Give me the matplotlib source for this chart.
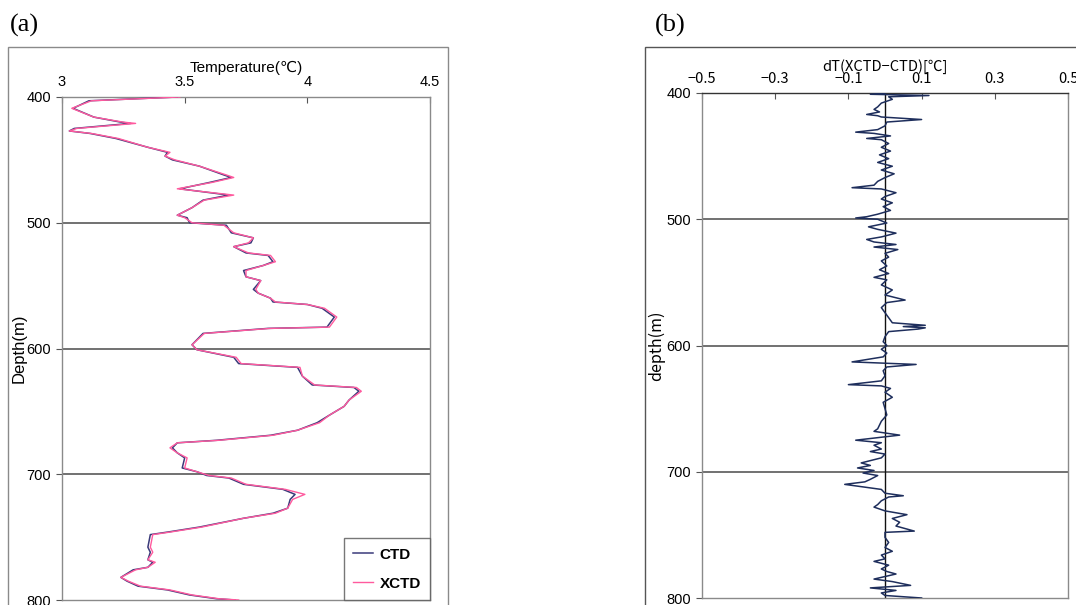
"""
CTD / XCTD temperature profile comparison, two panels.
Writes out.png.
"""
import matplotlib
matplotlib.use("Agg")
import matplotlib.pyplot as plt
from matplotlib.patches import Rectangle

# (a) temperature profiles
ctd_depth = [400, 403, 409, 416, 420, 421, 425, 427, 429, 433, 440, 444, 447, 450, 455,
             462, 464, 468, 473, 478, 482, 488, 494, 496, 500, 502, 508, 512, 516, 519,
             524, 526, 531, 534, 538, 543, 546, 553, 556, 560, 563, 565, 568, 575, 583,
             584, 588, 597, 601, 607, 612, 615, 622, 629, 631, 634, 641, 646, 653, 659,
             665, 669, 673, 675, 679, 683, 687, 695, 698, 701, 703, 708, 712, 716, 720,
             727, 731, 735, 742, 746, 748, 758, 762, 768, 770, 774, 776, 782, 785, 789,
             792, 796, 799, 800]
ctd_temp = [3.47, 3.11, 3.045, 3.13, 3.24, 3.28, 3.05, 3.03, 3.115, 3.22, 3.35, 3.43, 3.42, 3.45, 3.56,
            3.66, 3.69, 3.60, 3.48, 3.68, 3.575, 3.53, 3.47, 3.51, 3.52, 3.67, 3.69, 3.78, 3.77, 3.70,
            3.75, 3.84, 3.86, 3.82, 3.74, 3.75, 3.81, 3.78, 3.80, 3.85, 3.86, 4.00, 4.06, 4.11, 4.08,
            3.84, 3.575, 3.53, 3.55, 3.70, 3.72, 3.96, 3.98, 4.02, 4.19, 4.21, 4.17, 4.15, 4.09, 4.04,
            3.96, 3.85, 3.63, 3.47, 3.45, 3.47, 3.50, 3.49, 3.55, 3.59, 3.68, 3.74, 3.90, 3.95, 3.93,
            3.92, 3.86, 3.74, 3.56, 3.43, 3.36, 3.35, 3.36, 3.35, 3.37, 3.35, 3.29, 3.24, 3.265, 3.31,
            3.43, 3.52, 3.63, 3.705]
xctd_temp = [3.48, 3.12, 3.04, 3.13, 3.25, 3.30, 3.06, 3.03, 3.12, 3.23, 3.35, 3.44, 3.42, 3.46, 3.56,
             3.67, 3.70, 3.61, 3.47, 3.70, 3.58, 3.53, 3.47, 3.50, 3.53, 3.66, 3.70, 3.78, 3.76, 3.70,
             3.76, 3.85, 3.87, 3.82, 3.75, 3.75, 3.81, 3.79, 3.80, 3.85, 3.87, 4.00, 4.07, 4.12, 4.09,
             3.85, 3.58, 3.53, 3.55, 3.71, 3.73, 3.97, 3.98, 4.03, 4.20, 4.22, 4.17, 4.15, 4.09, 4.05,
             3.96, 3.86, 3.64, 3.47, 3.44, 3.47, 3.51, 3.50, 3.55, 3.60, 3.69, 3.75, 3.91, 3.99, 3.94,
             3.92, 3.87, 3.74, 3.57, 3.44, 3.37, 3.36, 3.37, 3.35, 3.38, 3.35, 3.30, 3.24, 3.27, 3.32,
             3.44, 3.53, 3.64, 3.72]

# (b) difference XCTD - CTD
dt_depth = [400, 401, 402, 403, 405, 408, 411, 413, 415, 417, 418, 419, 421, 423, 426, 429, 431, 432,
            434, 436, 437, 440, 443, 446, 449, 452, 455, 458, 461, 464, 467, 470, 473, 475, 476, 479,
            482, 484, 487, 490, 493, 496, 498, 499, 500, 503, 506, 508, 511, 514, 516, 518, 520, 522,
            524, 527, 530, 533, 537, 540, 543, 546, 548, 552, 556, 560, 564, 566, 570, 574, 578, 582,
            584, 585, 586, 587, 589, 593, 597, 600, 603, 606, 609, 613, 614, 615, 617, 620, 624, 628,
            631, 632, 634, 637, 641, 645, 650, 655, 660, 666, 668, 671, 673, 675, 677, 679, 682, 684,
            686, 689, 693, 695, 697, 699, 701, 703, 706, 708, 710, 712, 714, 717, 719, 720, 723, 726,
            728, 731, 734, 737, 740, 743, 747, 748, 752, 756, 760, 763, 766, 769, 771, 774, 777, 779,
            781, 783, 785, 787, 790, 792, 794, 796, 798, 800]
dt_val = [0.0, -0.04, 0.12, 0.01, 0.02, -0.01, -0.02, -0.03, -0.015, -0.05, -0.02, -0.01, 0.10, 0.005,
          0.0, -0.02, -0.08, -0.03, 0.015, -0.05, -0.01, 0.01, -0.01, 0.015, -0.015, 0.01, -0.02, 0.02,
          -0.01, 0.025, 0.0, -0.02, -0.03, -0.09, -0.01, 0.03, 0.0, -0.01, 0.02, -0.005, 0.015, -0.02,
          -0.05, -0.08, -0.02, 0.005, -0.045, -0.02, 0.03, -0.01, -0.05, -0.03, 0.03, -0.03, 0.035, 0.0,
          0.01, -0.01, 0.005, -0.015, 0.01, -0.03, 0.005, -0.01, 0.02, 0.0, 0.055, 0.005, -0.01, 0.0,
          0.01, 0.02, 0.11, 0.05, 0.11, 0.09, 0.01, 0.0, -0.005, 0.005, -0.01, 0.005, -0.005, -0.09,
          0.0, 0.085, 0.005, -0.005, 0.0, -0.01, -0.10, -0.01, 0.015, 0.0, 0.02, -0.005, 0.0, 0.005,
          -0.01, -0.02, -0.03, 0.04, -0.02, -0.08, -0.01, -0.03, -0.01, -0.04, 0.0, -0.01, -0.065,
          -0.04, -0.075, -0.03, -0.06, -0.02, -0.04, -0.055, -0.11, -0.06, -0.01, 0.0, 0.05, 0.01,
          -0.01, -0.02, -0.03, 0.0, 0.06, 0.02, 0.04, 0.03, 0.08, 0.0, 0.0, 0.01, 0.0, 0.02, -0.01,
          0.0, -0.03, 0.01, -0.01, 0.005, 0.03, 0.0, -0.03, 0.02, 0.07, -0.04, 0.03, -0.01, 0.0, 0.10]

temp_ticks = [3, 3.5, 4, 4.5]
temp_tick_labels = ["3", "3.5", "4", "4.5"]
dt_ticks = [-0.5, -0.3, -0.1, 0.1, 0.3, 0.5]
dt_tick_labels = ["\u22120.5", "\u22120.3", "\u22120.1", "0.1", "0.3", "0.5"]
depth_ticks = [400, 500, 600, 700, 800]

SANS = ["Liberation Sans", "DejaVu Sans"]
GOTHIC = ["Noto Sans CJK JP", "DejaVu Sans"]
TICK_FS = 10.5


def style_axis(ax, xlim, xticks, xlabels, label_family, xpad=6):
    ax.set_xlim(*xlim)
    ax.set_ylim(800, 400)
    ax.xaxis.tick_top()
    ax.set_xticks(xticks)
    ax.set_xticklabels(xlabels, family=label_family, fontsize=TICK_FS)
    ax.set_yticks(depth_ticks)
    ax.set_yticklabels([str(d) for d in depth_ticks], family=SANS, fontsize=TICK_FS)
    ax.tick_params(axis="x", direction="in", length=4, pad=xpad, color="#555555")
    ax.tick_params(axis="y", direction="out", length=4, pad=4, color="#555555")
    for d in [500, 600, 700]:
        ax.axhline(d, color="#4a4a4a", lw=1.1, zorder=1)
    for s in ax.spines.values():
        s.set_color("#8a8a8a")
        s.set_linewidth(1.0)


def main():
    fig = plt.figure(figsize=(10.76, 6.05), dpi=100)
    W, H = 1076, 605

    # outer chart frames (bottom runs off the image)
    fig.patches.append(Rectangle((8 / W, -0.05), 440 / W, 1.05 - 47 / H,
                                 transform=fig.transFigure, fill=False,
                                 edgecolor="#8a8a8a", lw=1.0))
    fig.patches.append(Rectangle((645 / W, -0.05), 440 / W, 1.05 - 47 / H,
                                 transform=fig.transFigure, fill=False,
                                 edgecolor="#555555", lw=1.0))

    # (a)
    ax1 = fig.add_axes([62 / W, 1 - 600 / H, 368 / W, 503 / H])
    style_axis(ax1, (3, 4.5), temp_ticks, temp_tick_labels, SANS)
    ax1.plot(ctd_temp, ctd_depth, color="#3a3a7a", lw=1.1, label="CTD", zorder=3)
    ax1.plot(xctd_temp, ctd_depth, color="#ff5a9e", lw=1.0, label="XCTD", zorder=4)
    ax1.set_xlabel("Temperature(\u2103)", family=SANS, fontsize=11, labelpad=2)
    ax1.xaxis.set_label_position("top")
    ax1.set_ylabel("Depth(m)", family=SANS, fontsize=12, labelpad=0)
    leg = ax1.legend(loc="lower right", frameon=True, fancybox=False,
                     edgecolor="#555555", prop={"family": SANS, "weight": "bold", "size": 11},
                     handlelength=1.3, borderpad=0.6, labelspacing=1.0,
                     borderaxespad=0.0, handletextpad=0.4)
    leg.get_frame().set_linewidth(1.0)

    # (b)
    ax2 = fig.add_axes([702 / W, 1 - 598 / H, 366 / W, 505 / H])
    style_axis(ax2, (-0.5, 0.5), dt_ticks, dt_tick_labels, GOTHIC, xpad=5)
    ax2.axvline(0, color="#111111", lw=1.0, zorder=2)
    ax2.plot(dt_val, dt_depth, color="#1e2e5c", lw=1.1, zorder=3)
    ax2.set_xlabel("dT(XCTD\u2212CTD)[\u2103]", family=GOTHIC, fontsize=10.5, labelpad=1)
    ax2.xaxis.set_label_position("top")
    ax2.set_ylabel("depth(m)", family=GOTHIC, fontsize=11.5, labelpad=1)
    ax2.spines["top"].set_color("#333333")

    fig.text(10 / W, 1 - 25 / H, "(a)", family=["Liberation Serif", "DejaVu Serif"],
             fontsize=19, va="center", ha="left")
    fig.text(655 / W, 1 - 25 / H, "(b)", family=["Liberation Serif", "DejaVu Serif"],
             fontsize=19, va="center", ha="left")

    fig.savefig("out.png", dpi=100)


if __name__ == "__main__":
    main()
